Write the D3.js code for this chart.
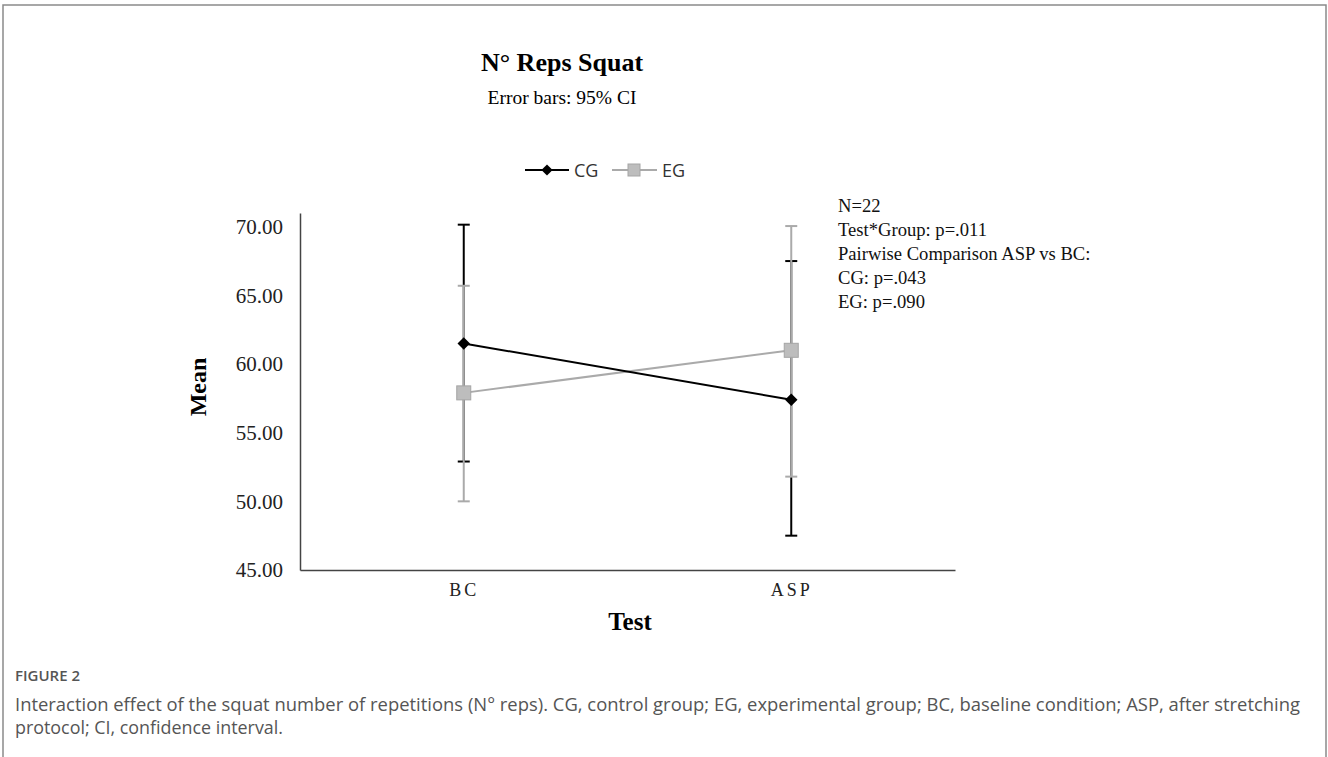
<!DOCTYPE html>
<html>
<head>
<meta charset="utf-8">
<script src="https://cdn.jsdelivr.net/npm/d3@7"></script>
<style>
  body { margin: 0; background: #fff; }
  svg { display: block; }
</style>
</head>
<body>
<svg id="chart" width="1328" height="757"></svg>
<script>
// data
var tests = ["BC", "ASP"];
var groups = ["CG", "EG"];
var cgMean = [61.5, 57.4];
var cgLow = [52.9, 47.5];
var cgHigh = [70.15, 67.5];
var egMean = [57.9, 61.0];
var egLow = [50.0, 51.8];
var egHigh = [65.7, 70.05];
var yTicks = [45, 50, 55, 60, 65, 70];
var notes = ["N=22", "Test*Group: p=.011", "Pairwise Comparison ASP vs BC:", "CG: p=.043", "EG: p=.090"];

var svg = d3.select("#chart");
var serif = "'Liberation Serif', 'Times New Roman', serif";
var sans = "'Open Sans', 'Noto Sans', sans-serif";

// frame around the figure
svg.append("path")
  .attr("d", "M3,757 V5 H1326 V757")
  .attr("fill", "none")
  .attr("stroke", "#8a8a8a")
  .attr("stroke-width", 1.5);

var x = d3.scalePoint().domain(tests).range([300, 955]).padding(0.5);
var y = d3.scaleLinear().domain([45, 71]).range([570, 213]);

// titles
svg.append("text").attr("x", 562).attr("y", 71).attr("text-anchor", "middle")
  .style("font-family", serif).style("font-weight", "bold").style("font-size", "26px")
  .text("N° Reps Squat");
svg.append("text").attr("x", 562).attr("y", 104).attr("text-anchor", "middle")
  .style("font-family", serif).style("font-size", "19.5px")
  .text("Error bars: 95% CI");

// legend
var leg = svg.append("g").attr("transform", "translate(0,170)");
leg.append("line").attr("x1", 525).attr("x2", 569).attr("stroke", "#000").attr("stroke-width", 2);
leg.append("path").attr("d", d3.symbol(d3.symbolDiamond2, 80)()).attr("transform", "translate(547,0)").attr("fill", "#000");
leg.append("text").attr("x", 574).attr("y", 6.5).style("font-family", sans).style("font-size", "18px").attr("fill", "#333").text(groups[0]);
leg.append("line").attr("x1", 612).attr("x2", 657).attr("stroke", "#aaa").attr("stroke-width", 2);
leg.append("rect").attr("x", 628).attr("y", -6).attr("width", 12).attr("height", 12).attr("fill", "#bdbdbd").attr("stroke", "#a5a5a5");
leg.append("text").attr("x", 662).attr("y", 6.5).style("font-family", sans).style("font-size", "18px").attr("fill", "#333").text(groups[1]);

// axes
var yAxis = svg.append("g").attr("transform", "translate(300,0)")
  .call(d3.axisLeft(y).tickValues(yTicks).tickSize(0).tickPadding(17).tickFormat(d3.format(".2f")));
yAxis.select(".domain").attr("stroke", "#444").attr("stroke-width", 1.5);
yAxis.selectAll("text").style("font-family", serif).style("font-size", "21px").attr("fill", "#222");

var xAxis = svg.append("g").attr("transform", "translate(0,570)")
  .call(d3.axisBottom(x).tickSize(0).tickPadding(13));
xAxis.select(".domain").attr("stroke", "#444").attr("stroke-width", 1.5);
xAxis.selectAll("text").style("font-family", serif).style("font-size", "18px")
  .style("letter-spacing", "3px").attr("fill", "#222");

svg.append("text").attr("x", 630).attr("y", 630).attr("text-anchor", "middle")
  .style("font-family", serif).style("font-weight", "bold").style("font-size", "25px")
  .text("Test");
svg.append("text").attr("transform", "translate(206,387) rotate(-90)").attr("text-anchor", "middle")
  .style("font-family", serif).style("font-weight", "bold").style("font-size", "24px")
  .text("Mean");

// error bars
function errorBars(lo, hi, color) {
  var g = svg.append("g").attr("stroke", color).attr("stroke-width", 2);
  tests.forEach(function (t, i) {
    var cx = x(t);
    g.append("line").attr("x1", cx).attr("x2", cx).attr("y1", y(lo[i])).attr("y2", y(hi[i]));
    g.append("line").attr("x1", cx - 6).attr("x2", cx + 6).attr("y1", y(lo[i])).attr("y2", y(lo[i]));
    g.append("line").attr("x1", cx - 6).attr("x2", cx + 6).attr("y1", y(hi[i])).attr("y2", y(hi[i]));
  });
}
errorBars(cgLow, cgHigh, "#000");
errorBars(egLow, egHigh, "#aaa");

var line = d3.line().x(function (d, i) { return x(tests[i]); }).y(function (d) { return y(d); });
svg.append("path").datum(egMean).attr("d", line).attr("fill", "none").attr("stroke", "#aaa").attr("stroke-width", 2);
svg.append("path").datum(cgMean).attr("d", line).attr("fill", "none").attr("stroke", "#000").attr("stroke-width", 2);

svg.selectAll(".eg").data(egMean).enter().append("rect")
  .attr("x", function (d, i) { return x(tests[i]) - 7; })
  .attr("y", function (d) { return y(d) - 7; })
  .attr("width", 14).attr("height", 14)
  .attr("fill", "#bdbdbd").attr("stroke", "#a5a5a5");
svg.selectAll(".cg").data(cgMean).enter().append("path")
  .attr("d", d3.symbol(d3.symbolDiamond2, 100)())
  .attr("transform", function (d, i) { return "translate(" + x(tests[i]) + "," + y(d) + ")"; })
  .attr("fill", "#000");

// annotation
svg.append("g").selectAll("text").data(notes).enter().append("text")
  .attr("x", 838).attr("y", function (d, i) { return 212 + i * 24; })
  .style("font-family", serif).style("font-size", "18.6px").attr("fill", "#111")
  .text(function (d) { return d; });

// caption
svg.append("text").attr("x", 15).attr("y", 681)
  .style("font-family", sans).style("font-size", "14px").style("font-weight", 600).attr("fill", "#555")
  .attr("textLength", 65).attr("lengthAdjust", "spacingAndGlyphs")
  .text("FIGURE 2");
svg.append("text").attr("x", 15).attr("y", 711)
  .style("font-family", sans).style("font-size", "17.5px").attr("fill", "#555")
  .attr("textLength", 1285).attr("lengthAdjust", "spacingAndGlyphs")
  .text("Interaction effect of the squat number of repetitions (N° reps). CG, control group; EG, experimental group; BC, baseline condition; ASP, after stretching");
svg.append("text").attr("x", 15).attr("y", 734)
  .style("font-family", sans).style("font-size", "17.5px").attr("fill", "#555")
  .attr("textLength", 268).attr("lengthAdjust", "spacingAndGlyphs")
  .text("protocol; CI, confidence interval.");
</script>
</body>
</html>
